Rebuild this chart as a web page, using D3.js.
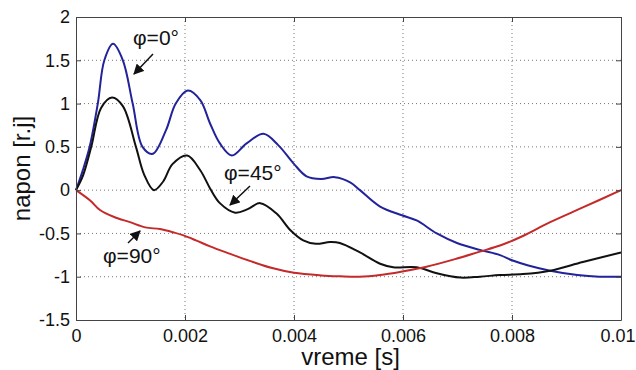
<!DOCTYPE html>
<html>
<head>
<meta charset="utf-8">
<script src="https://cdn.jsdelivr.net/npm/d3@7"></script>
<style>
  body { margin: 0; background: #fff; }
  text { font-family: "Liberation Sans", Arial, sans-serif; }
</style>
</head>
<body>
<div id="chart"></div>
<script>
// Data (time in s, voltage in r.j.)
const phi0 = [
  [0, 0], [0.00012, 0.22], [0.00025, 0.5], [0.0004, 1.0], [0.00052, 1.5], [0.00068, 1.69],
  [0.00086, 1.5], [0.00104, 1.0], [0.00122, 0.5], [0.00141, 0.42], [0.00165, 0.69],
  [0.00183, 1.0], [0.00205, 1.15], [0.00228, 1.04], [0.00246, 0.77], [0.00264, 0.54],
  [0.00286, 0.40], [0.00313, 0.54], [0.00344, 0.65], [0.00371, 0.52], [0.00399, 0.31],
  [0.00423, 0.16], [0.0045, 0.13], [0.00475, 0.15], [0.00503, 0.09], [0.00521, 0.0],
  [0.00558, -0.19], [0.00598, -0.29], [0.00625, -0.35], [0.00662, -0.50], [0.00699, -0.61],
  [0.00741, -0.69], [0.00778, -0.75], [0.008, -0.81], [0.0083, -0.87], [0.0087, -0.93],
  [0.0092, -0.98], [0.0096, -1.0], [0.01, -1.0]
];
const phi45 = [
  [0, 0], [0.00013, 0.17], [0.00028, 0.5], [0.00046, 0.95], [0.00066, 1.07], [0.00086, 0.97],
  [0.0011, 0.5], [0.00125, 0.18], [0.00143, 0.0], [0.0016, 0.1], [0.00177, 0.3],
  [0.00204, 0.40], [0.00228, 0.23], [0.00246, 0.02], [0.00264, -0.15], [0.00292, -0.26],
  [0.00315, -0.22], [0.00338, -0.15], [0.00368, -0.27], [0.00393, -0.46], [0.00417, -0.58],
  [0.0044, -0.62], [0.00466, -0.60], [0.00484, -0.61], [0.00521, -0.72], [0.00558, -0.85],
  [0.00582, -0.89], [0.00625, -0.89], [0.00662, -0.96], [0.00705, -1.01], [0.00741, -1.0],
  [0.00778, -0.98], [0.0082, -0.97], [0.0087, -0.93], [0.0093, -0.83], [0.01, -0.72]
];
const phi90 = [
  [0, 0], [0.00026, -0.12], [0.00044, -0.23], [0.0007, -0.31], [0.00099, -0.37],
  [0.00127, -0.43], [0.00154, -0.45], [0.0018, -0.49], [0.00196, -0.52], [0.0022, -0.58],
  [0.00246, -0.65], [0.0028, -0.73], [0.0032, -0.82], [0.0036, -0.9], [0.004, -0.955],
  [0.0045, -0.985], [0.00484, -0.995], [0.0052, -1.0], [0.00558, -0.98], [0.00598, -0.94],
  [0.00643, -0.885], [0.00699, -0.79], [0.00741, -0.71], [0.00778, -0.64], [0.0082, -0.53],
  [0.0087, -0.37], [0.0093, -0.2], [0.01, 0.0]
];
const xTicks = [0, 0.002, 0.004, 0.006, 0.008, 0.01];
const yTicks = [-1.5, -1, -0.5, 0, 0.5, 1, 1.5, 2];
const xLabels = ["0", "0.002", "0.004", "0.006", "0.008", "0.01"];
const yLabels = ["-1.5", "-1", "-0.5", "0", "0.5", "1", "1.5", "2"];

const margin = { top: 17, right: 15, bottom: 50, left: 76 };
const width = 636 - margin.left - margin.right;
const height = 370 - margin.top - margin.bottom;

const svg = d3.select("#chart")
  .append("svg")
  .attr("width", 636)
  .attr("height", 370)
  .append("g")
  .attr("transform", `translate(${margin.left}, ${margin.top})`);

const x = d3.scaleLinear().domain([0, 0.01]).range([0, width]);
const y = d3.scaleLinear().domain([-1.5, 2]).range([height, 0]);

// Dotted grid
svg.append("g").selectAll("line.gx")
  .data(xTicks.slice(1, -1))
  .enter().append("line")
  .attr("x1", d => x(d)).attr("x2", d => x(d))
  .attr("y1", 0).attr("y2", height)
  .attr("stroke", "#777").attr("stroke-dasharray", "1,3");
svg.append("g").selectAll("line.gy")
  .data(yTicks.slice(1, -1))
  .enter().append("line")
  .attr("y1", d => y(d)).attr("y2", d => y(d))
  .attr("x1", 0).attr("x2", width)
  .attr("stroke", "#777").attr("stroke-dasharray", "1,3");

// Curves
const line = d3.line()
  .x(d => x(d[0]))
  .y(d => y(d[1]))
  .curve(d3.curveCatmullRom.alpha(0.5));

[[phi0, "#22239a"], [phi45, "#111"], [phi90, "#c42a2a"]].forEach(([data, color]) => {
  svg.append("path")
    .datum(data)
    .attr("d", line)
    .attr("fill", "none")
    .attr("stroke", color)
    .attr("stroke-width", 2);
});

// Axes, ticks inward on all sides
const fmtX = d => xLabels[xTicks.indexOf(d)];
const fmtY = d => yLabels[yTicks.indexOf(d)];

const xAxis = svg.append("g")
  .attr("transform", `translate(0, ${height})`)
  .call(d3.axisBottom(x).tickValues(xTicks).tickFormat(fmtX).tickSizeInner(-5).tickSizeOuter(0).tickPadding(9));
svg.append("g")
  .call(d3.axisLeft(y).tickValues(yTicks).tickFormat(fmtY).tickSizeInner(-5).tickSizeOuter(0).tickPadding(6));
svg.append("g")
  .call(d3.axisTop(x).tickValues(xTicks).tickFormat("").tickSizeInner(-5).tickSizeOuter(0));
svg.append("g")
  .attr("transform", `translate(${width}, 0)`)
  .call(d3.axisRight(y).tickValues(yTicks).tickFormat("").tickSizeInner(-5).tickSizeOuter(0));

svg.selectAll(".domain").attr("stroke", "#444");
svg.selectAll(".tick line").attr("stroke", "#444");
svg.selectAll(".tick text")
  .attr("fill", "#111")
  .style("font-size", "18px")
  .style("font-family", "'Liberation Sans', Arial, sans-serif");

// keep the last x label inside the picture
xAxis.selectAll(".tick text")
  .filter(d => d === 0.01)
  .attr("text-anchor", "end")
  .attr("dx", "14px");

// Axis labels
svg.append("text")
  .attr("x", width / 2 + 2)
  .attr("y", 348)
  .attr("text-anchor", "middle")
  .style("font-size", "24px")
  .attr("fill", "#111")
  .text("vreme [s]");

svg.append("text")
  .attr("transform", `translate(${30 - margin.left}, ${height / 2}) rotate(-90)`)
  .attr("text-anchor", "middle")
  .style("font-size", "24px")
  .attr("fill", "#111")
  .text("napon [r.j]");

// Annotations with arrows
svg.append("defs").append("marker")
  .attr("id", "arrow")
  .attr("viewBox", "0 0 10 10")
  .attr("refX", 9).attr("refY", 5)
  .attr("markerWidth", 7).attr("markerHeight", 7)
  .attr("orient", "auto")
  .append("path")
  .attr("d", "M0,0 L10,5 L0,10 z")
  .attr("fill", "#111");

const notes = [
  { label: "φ=0°", tx: 133, ty: 45, a: [153, 54, 134, 74] },
  { label: "φ=45°", tx: 224, ty: 180, a: [250, 186, 230, 205] },
  { label: "φ=90°", tx: 103, ty: 263, a: [128, 243, 140, 231] }
];
notes.forEach(n => {
  svg.append("text")
    .attr("x", n.tx - margin.left)
    .attr("y", n.ty - margin.top)
    .style("font-size", "21px")
    .attr("fill", "#111")
    .text(n.label);
  svg.append("line")
    .attr("x1", n.a[0] - margin.left).attr("y1", n.a[1] - margin.top)
    .attr("x2", n.a[2] - margin.left).attr("y2", n.a[3] - margin.top)
    .attr("stroke", "#111").attr("stroke-width", 1.5)
    .attr("marker-end", "url(#arrow)");
});
</script>
</body>
</html>
